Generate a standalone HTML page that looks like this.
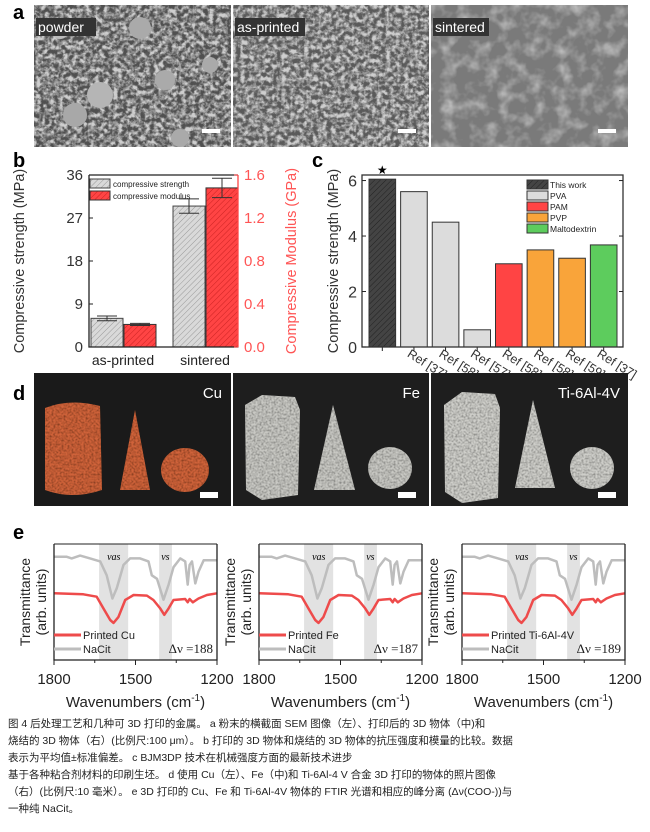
<!DOCTYPE html>
<html><head><meta charset="utf-8">
<style>
body{margin:0;background:#fff;width:650px;height:832px;overflow:hidden;position:relative;font-family:"Liberation Sans","Noto Sans CJK SC",sans-serif}
.lbl{position:absolute;font-weight:bold;font-size:20px}
.cap{position:absolute;left:8px;font-size:10.5px;color:#222;white-space:nowrap}
svg{position:absolute;left:0;top:0}
</style></head><body>
<div class="lbl" style="left:13px;top:2px">a</div>
<div class="lbl" style="left:13px;top:150px">b</div>
<div class="lbl" style="left:312px;top:150px">c</div>
<div class="lbl" style="left:13px;top:383px">d</div>
<div class="lbl" style="left:13px;top:522px">e</div>

<svg width="650" height="832" font-family="Liberation Sans, sans-serif">
<defs>
<filter id="sem" x="0" y="0" width="100%" height="100%"><feTurbulence type="fractalNoise" baseFrequency="0.22" numOctaves="3" seed="3"/><feColorMatrix type="matrix" values="0 0 0 0 0.62  0 0 0 0 0.62  0 0 0 0 0.62  2 2 0 0 -1.6"/></filter>
<filter id="semd" x="0" y="0" width="100%" height="100%"><feTurbulence type="fractalNoise" baseFrequency="0.12" numOctaves="2" seed="11"/><feColorMatrix type="matrix" values="0 0 0 0 0.2  0 0 0 0 0.2  0 0 0 0 0.2  -2 -2 0 0 1.6"/></filter>
<filter id="sem2" x="0" y="0" width="100%" height="100%"><feTurbulence type="fractalNoise" baseFrequency="0.07" numOctaves="3" seed="8"/><feColorMatrix type="matrix" values="0 0 0 0 0.72  0 0 0 0 0.72  0 0 0 0 0.72  1.4 0 0 0 -0.6"/></filter>
<filter id="rough"><feTurbulence type="fractalNoise" baseFrequency="0.5" numOctaves="2" seed="2"/><feColorMatrix type="matrix" values="0 0 0 0 0  0 0 0 0 0  0 0 0 0 0  0 0 1.2 0 -0.4"/><feComposite in2="SourceGraphic" operator="in"/><feMerge><feMergeNode in="SourceGraphic"/><feMergeNode/></feMerge></filter>
<pattern id="hg" width="4" height="4" patternUnits="userSpaceOnUse" patternTransform="rotate(45)"><rect width="4" height="4" fill="#d9d9d9"/><line x1="0" y1="0" x2="0" y2="4" stroke="#999" stroke-width="1"/></pattern>
<pattern id="hr" width="4" height="4" patternUnits="userSpaceOnUse" patternTransform="rotate(45)"><rect width="4" height="4" fill="#f44"/><line x1="0" y1="0" x2="0" y2="4" stroke="#c22" stroke-width="1"/></pattern>
<pattern id="hk" width="4" height="4" patternUnits="userSpaceOnUse" patternTransform="rotate(45)"><rect width="4" height="4" fill="#444"/><line x1="0" y1="0" x2="0" y2="4" stroke="#222" stroke-width="1"/></pattern>
</defs>

<!-- panel a SEM -->
<g>
<g><rect x="34" y="5" width="197" height="142" fill="#505050"/><rect x="34" y="5" width="197" height="142" filter="url(#sem)"/><rect x="34" y="5" width="197" height="142" filter="url(#semd)" opacity="0.6"/>
<circle cx="60" cy="30" r="9" fill="#bbb"/><circle cx="140" cy="28" r="11" fill="#aaa"/><circle cx="100" cy="95" r="13" fill="#b5b5b5"/><circle cx="165" cy="80" r="10" fill="#aaa"/><circle cx="75" cy="115" r="12" fill="#a8a8a8"/><circle cx="210" cy="65" r="8" fill="#aaa"/><circle cx="180" cy="138" r="9" fill="#aaa"/>
<rect x="36" y="18" width="60" height="18" fill="#333"/><text x="38" y="32" fill="#fff" font-size="14">powder</text><rect x="202" y="129" width="18" height="4" fill="#fff"/></g>
<g><rect x="233" y="5" width="196" height="142" fill="#5a5a5a"/><rect x="233" y="5" width="196" height="142" filter="url(#sem)"/><rect x="233" y="5" width="196" height="142" filter="url(#semd)" opacity="0.5"/>
<rect x="235" y="18" width="70" height="18" fill="#333"/><text x="237" y="32" fill="#fff" font-size="14">as-printed</text><rect x="398" y="129" width="18" height="4" fill="#fff"/></g>
<g><rect x="431" y="5" width="197" height="142" fill="#7a7a7a"/><rect x="431" y="5" width="197" height="142" filter="url(#sem2)"/><rect x="431" y="5" width="197" height="142" filter="url(#semd)" opacity="0.4"/>
<rect x="433" y="18" width="56" height="18" fill="#333"/><text x="435" y="32" fill="#fff" font-size="14">sintered</text><rect x="598" y="129" width="18" height="4" fill="#fff"/></g>
</g>

<g id="chartB"></g>
<g id="chartC"></g>

<!-- panel d photos -->
<g><rect x="34" y="373" width="197" height="133" fill="#1a1a1a"/>
<g fill="#d0643a" filter="url(#rough)"><path d="M45 408 Q70 398 100 406 L102 490 Q72 500 45 490 Z"/><path d="M120 490 L135 410 L150 490 Z"/><ellipse cx="185" cy="470" rx="24" ry="22"/></g>
<text x="222" y="398" fill="#fff" font-size="15" text-anchor="end">Cu</text><rect x="200" y="492" width="18" height="6" fill="#fff"/></g>
<g><rect x="233" y="373" width="196" height="133" fill="#1e1e1e"/>
<g fill="#c9c9c4" filter="url(#rough)"><path d="M245 405 L262 395 L295 397 L300 410 L298 495 L262 500 L246 490 Z"/><path d="M314 490 L333 405 L355 490 Z"/><ellipse cx="390" cy="468" rx="22" ry="21"/></g>
<text x="420" y="398" fill="#fff" font-size="15" text-anchor="end">Fe</text><rect x="398" y="492" width="18" height="6" fill="#fff"/></g>
<g><rect x="431" y="373" width="197" height="133" fill="#1e1e1e"/>
<g fill="#cfcfca" filter="url(#rough)"><path d="M444 405 L462 392 L495 394 L500 408 L498 498 L462 503 L445 492 Z"/><path d="M515 488 L533 400 L555 488 Z"/><ellipse cx="592" cy="468" rx="22" ry="21"/></g>
<text x="620" y="398" fill="#fff" font-size="15" text-anchor="end">Ti-6Al-4V</text><rect x="598" y="492" width="18" height="6" fill="#fff"/></g>

<g id="chartE"></g>
</svg>

<div class="cap" style="top:716px">图 4 后处理工艺和几种可 3D 打印的金属。 a 粉末的横截面 SEM 图像（左）、打印后的 3D 物体（中)和</div>
<div class="cap" style="top:733px">烧结的 3D 物体（右）(比例尺:100 μm）。 b 打印的 3D 物体和烧结的 3D 物体的抗压强度和模量的比较。数据</div>
<div class="cap" style="top:750px">表示为平均值±标准偏差。 c BJM3DP 技术在机械强度方面的最新技术进步</div>
<div class="cap" style="top:767px">基于各种粘合剂材料的印刷生坯。 d 使用 Cu（左）、Fe（中)和 Ti-6Al-4 V 合金 3D 打印的物体的照片图像</div>
<div class="cap" style="top:784px">（右）(比例尺:10 毫米）。 e 3D 打印的 Cu、Fe 和 Ti-6Al-4V 物体的 FTIR 光谱和相应的峰分离 (Δν(COO-))与</div>
<div class="cap" style="top:801px">一种纯 NaCit。</div>

<script>
const NS='http://www.w3.org/2000/svg';
// ---- chart b data ----
const bCategories=['as-printed','sintered'];
const bStrength=[6.0,29.5];
const bStrengthErr=[0.5,1.5];
const bModulus=[0.21,1.48];
const bModulusErr=[0.01,0.09];
const bLeftTicks=[0,9,18,27,36];
const bRightTicks=['0.0','0.4','0.8','1.2','1.6'];
// ---- chart c data ----
const cCategories=['','Ref [37]','Ref [58]','Ref [57]','Ref [58]','Ref [58]','Ref [59]','Ref [37]'];
const cValues=[6.05,5.6,4.5,0.62,3.0,3.5,3.2,3.68];
const cGroups=['This work','PVA','PVA','PVA','PAM','PVP','PVP','Maltodextrin'];
const cTicks=[0,2,4,6];
const cLegend=['This work','PVA','PAM','PVP','Maltodextrin'];
// ---- chart e data ----
const eNaCitWn=[1800,1753,1735,1704,1667,1630,1606,1585,1569,1544,1520,1483,1452,1440,1421,1397,1378,1360,1335,1317,1308,1301,1292,1280,1268,1249,1200];
const eNaCitT=[0.89,0.89,0.876,0.90,0.876,0.85,0.73,0.53,0.62,0.82,0.876,0.876,0.85,0.73,0.70,0.52,0.65,0.80,0.876,0.85,0.65,0.82,0.85,0.66,0.76,0.86,0.86];
const ePrintedWn=[1800,1692,1643,1618,1593,1581,1563,1538,1507,1458,1434,1409,1394,1378,1360,1317,1308,1301,1289,1268,1237,1200];
const ePrintedT=[0.575,0.566,0.546,0.445,0.345,0.32,0.37,0.517,0.56,0.555,0.517,0.445,0.39,0.445,0.517,0.526,0.497,0.526,0.497,0.53,0.56,0.575];
const eSamples=['Printed Cu','Printed Fe','Printed Ti-6Al-4V'];
const eDelta=[188,187,189];
const eTicks=[1800,1500,1200];
const eBandAs=[1634,1527];
const eBandS=[1413,1366];

function el(tag,attrs,parent,text){const e=document.createElementNS(NS,tag);for(const k in attrs)e.setAttribute(k,attrs[k]);if(text!==undefined)e.textContent=text;parent.appendChild(e);return e;}

// ---- chart b ----
(function(){
const g=document.getElementById('chartB');
const L=89,R=238,T=175,B=347;
const yL=v=>B-(v/36)*(B-T), yR=v=>B-(v/1.6)*(B-T);
const groupX=[91,173], bw=32;
bCategories.forEach((c,i)=>{
 const x=groupX[i];
 let r=el('rect',{x:x,y:yL(bStrength[i]),width:bw,height:B-yL(bStrength[i]),fill:'url(#hg)',stroke:'#444','stroke-width':1},g);
 
 
 let r2=el('rect',{x:x+bw+1,y:yR(bModulus[i]),width:bw,height:B-yR(bModulus[i]),fill:'url(#hr)',stroke:'#333','stroke-width':1},g);
 
 
 const cx1=x+bw/2,cx2=x+bw*1.5+1;
 [[cx1,yL(bStrength[i]-bStrengthErr[i]),yL(bStrength[i]+bStrengthErr[i])],[cx2,yR(bModulus[i]-bModulusErr[i]),yR(bModulus[i]+bModulusErr[i])]].forEach(e=>{
  el('path',{d:`M${e[0]} ${e[1]}V${e[2]}M${e[0]-10} ${e[1]}h20M${e[0]-10} ${e[2]}h20`,stroke:'#333','stroke-width':1,fill:'none'},g);
 });
 let t=el('text',{x:x+bw,y:365,'font-size':14,'text-anchor':'middle',fill:'#222'},g,c);
 
 
});
el('path',{d:`M${L} ${T}V${B}H${R}M${L} ${T}H${R}`,stroke:'#222','stroke-width':1.3,fill:'none'},g);
el('line',{x1:R,y1:T,x2:R,y2:B,stroke:'#f44','stroke-width':1.3},g);
bLeftTicks.forEach(v=>{el('line',{x1:L,y1:yL(v),x2:L+4,y2:yL(v),stroke:'#222'},g);el('text',{x:L-6,y:yL(v)+5,'font-size':15,'text-anchor':'end',fill:'#333'},g,String(v));});
bRightTicks.forEach(v=>{el('line',{x1:R,y1:yR(+v),x2:R-4,y2:yR(+v),stroke:'#f44'},g);el('text',{x:R+6,y:yR(+v)+5,'font-size':15,fill:'#f55'},g,v);});
let yt=el('text',{transform:'translate(24,261) rotate(-90)','font-size':14.5,'text-anchor':'middle',fill:'#333'},g,'Compressive  strength (MPa)');

let yt2=el('text',{transform:'translate(296,261) rotate(-90)','font-size':14.5,'text-anchor':'middle',fill:'#f55'},g,'Compressive Modulus (GPa)');

el('rect',{x:90,y:179,width:20,height:9,fill:'url(#hg)',stroke:'#444'},g);
el('text',{x:113,y:187,'font-size':8,fill:'#222'},g,'compressive strength');
el('rect',{x:90,y:191,width:20,height:9,fill:'url(#hr)',stroke:'#333'},g);
el('text',{x:113,y:199,'font-size':8,fill:'#222'},g,'compressive modulus');
})();

// ---- chart c ----
(function(){
const g=document.getElementById('chartC');
const L=362,R=623,T=175,B=347;
const y=v=>B-(v/6.2)*(B-T);
const fills={'This work':'url(#hk)','PVA':'#dcdcdc','PAM':'#f44','PVP':'#f9a43a','Maltodextrin':'#5dcc5d'};
const step=(R-L-8)/cValues.length;
cValues.forEach((v,i)=>{
 const x=L+7+i*step;
 let r=el('rect',{x:x,y:y(v),width:step-5,height:B-y(v),fill:fills[cGroups[i]],stroke:'#333','stroke-width':1},g);
 
 
 if(cCategories[i]){let t=el('text',{transform:`translate(${x+step/2-10},356) rotate(32)`,'font-size':12.5,fill:'#333'},g,cCategories[i]);
 }
 el('line',{x1:x+step/2-2.5,y1:B,x2:x+step/2-2.5,y2:B+4,stroke:'#222'},g);
});
el('text',{x:L+7+step/2-2.5,y:y(cValues[0])-5,'font-size':12,'text-anchor':'middle'},g,'★');
el('rect',{x:L,y:T,width:R-L,height:B-T,fill:'none',stroke:'#333','stroke-width':1.3},g);
cTicks.forEach(v=>{el('line',{x1:L,y1:y(v),x2:L+4,y2:y(v),stroke:'#222'},g);el('line',{x1:R,y1:y(v),x2:R-4,y2:y(v),stroke:'#222'},g);el('text',{x:L-5,y:y(v)+6,'font-size':16,'text-anchor':'end',fill:'#333'},g,String(v));});
let yt=el('text',{transform:'translate(338,261) rotate(-90)','font-size':14.5,'text-anchor':'middle',fill:'#333'},g,'Compressive strength (MPa)');

cLegend.forEach((n,i)=>{
 const ly=180+i*11;
 el('rect',{x:527,y:ly,width:21,height:9,fill:fills[n],stroke:'#333'},g);
 let t=el('text',{x:550,y:ly+8,'font-size':8.5,fill:'#222'},g,n);
 
});
})();

// ---- chart e ----
(function(){
const root=document.getElementById('chartE');
const lefts=[54,259,462], W=163, T=544, B=660;
eSamples.forEach((s,k)=>{
 const g=el('g',{},root);
 
 
 const L=lefts[k];
 const x=w=>L+(1800-w)/600*W, y=v=>B-v*(B-T);
 el('rect',{x:x(eBandAs[0]),y:T,width:x(eBandAs[1])-x(eBandAs[0]),height:B-T,fill:'#e2e2e2'},g);
 el('rect',{x:x(eBandS[0]),y:T,width:x(eBandS[1])-x(eBandS[0]),height:B-T,fill:'#e2e2e2'},g);
 const pts=(ws,ts)=>ws.map((w,i)=>`${i?'L':'M'}${x(w).toFixed(1)} ${y(ts[i]).toFixed(1)}`).join('');
 let p1=el('path',{d:pts(eNaCitWn,eNaCitT),stroke:'#bdbdbd','stroke-width':2.5,fill:'none','stroke-linejoin':'round'},g);
 
 let p2=el('path',{d:pts(ePrintedWn,ePrintedT),stroke:'#ee4b4b','stroke-width':2.5,fill:'none','stroke-linejoin':'round'},g);
 
 el('text',{x:x(1580),y:T+16,'font-size':10,'font-style':'italic','font-family':'Liberation Serif, serif','text-anchor':'middle'},g,'νas');
 el('text',{x:x(1390),y:T+16,'font-size':10,'font-style':'italic','font-family':'Liberation Serif, serif','text-anchor':'middle'},g,'νs');
 el('path',{d:`M${L} ${T}V${B}H${L+W}V${T}`,stroke:'#222','stroke-width':1.3,fill:'none'},g);
 el('line',{x1:L,y1:T,x2:L+W,y2:T,stroke:'#222','stroke-width':1},g);
 eTicks.forEach(w=>{el('line',{x1:x(w),y1:B,x2:x(w),y2:B+5,stroke:'#222'},g);el('text',{x:x(w),y:B+24,'font-size':15,'text-anchor':'middle',fill:'#222'},g,String(w));});
 [1650,1350].forEach(w=>el('line',{x1:x(w),y1:B,x2:x(w),y2:B+3,stroke:'#222'},g));
 el('line',{x1:L,y1:635,x2:L+27,y2:635,stroke:'#ee4b4b','stroke-width':3},g);
 el('text',{x:L+29,y:639,'font-size':11,fill:'#222'},g,s);
 el('line',{x1:L,y1:649,x2:L+27,y2:649,stroke:'#bdbdbd','stroke-width':3},g);
 el('text',{x:L+29,y:653,'font-size':11,fill:'#222'},g,'NaCit');
 el('text',{x:L+W-4,y:653,'font-size':13,'text-anchor':'end','font-family':'Liberation Serif, serif',fill:'#222'},g,'Δν =' + eDelta[k]);
 el('text',{transform:`translate(${L-24},${(T+B)/2}) rotate(-90)`,'font-size':14,'text-anchor':'middle',fill:'#222'},g,'Transmittance');
 el('text',{transform:`translate(${L-8},${(T+B)/2}) rotate(-90)`,'font-size':14,'text-anchor':'middle',fill:'#222'},g,'(arb. units)');
 let xt=el('text',{x:L+W/2,y:707,'font-size':15,'text-anchor':'middle',fill:'#222'},g,'');
 
 xt.appendChild(document.createTextNode('Wavenumbers (cm'));
 const sup=document.createElementNS(NS,'tspan');sup.setAttribute('dy','-6');sup.setAttribute('font-size','10');sup.textContent='-1';xt.appendChild(sup);
 const cl=document.createElementNS(NS,'tspan');cl.setAttribute('dy','6');cl.textContent=')';xt.appendChild(cl);
});
})();
</script>
</body></html>
